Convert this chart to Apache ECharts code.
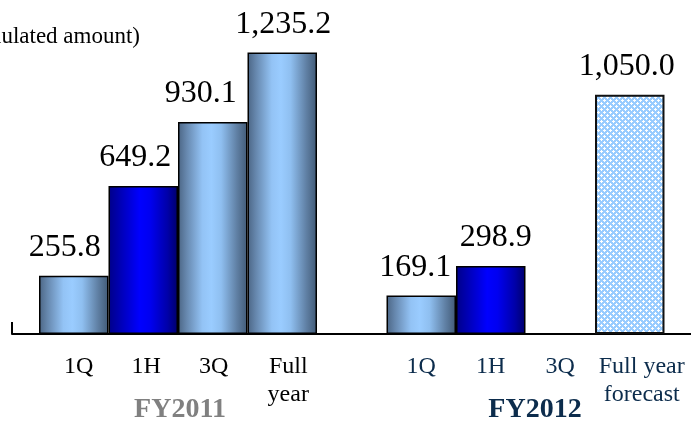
<!DOCTYPE html>
<html>
<head>
<meta charset="utf-8">
<script src="https://cdn.jsdelivr.net/npm/echarts@6/dist/echarts.min.js"></script>
<style>
  html, body { margin: 0; padding: 0; background: #fff; }
  #chart { width: 691px; height: 421px; }
</style>
</head>
<body>
<div id="chart"></div>
<script>
// Accumulated amounts by period, FY2011 results and FY2012 to date plus forecast
const categories = ['1Q', '1H', '3Q', 'Full\nyear', '', '1Q', '1H', '3Q', 'Full year\nforecast'];
const values = [255.8, 649.2, 930.1, 1235.2, null, 169.1, 298.9, null, 1050.0];
const barKinds = ['quarter', 'half', 'quarter', 'quarter', null, 'quarter', 'half', null, 'forecast'];
const fiscalYears = ['FY2011', 'FY2012'];
const titleText = '(Accumulated amount)';
const yMax = 1400;

// small horizontal nudges for the text around the bars
const valueLabelShift = [-9, -8, -12, 1, 0, -6, 5, 0, -3];
const tickLabelShift = [5, 3, 1, 6, 0, 0, 0, 0, 12];
const tickLabelColor = ['#000', '#000', '#000', '#000', '#000', '#0c2c4c', '#0c2c4c', '#0c2c4c', '#0c2c4c'];

const serif = '"Liberation Serif", "Times New Roman", serif';

// light-blue dotted tile for the forecast bar
function makeDotTile() {
  const c = document.createElement('canvas');
  c.width = 6; c.height = 6;
  const g = c.getContext('2d');
  g.fillStyle = '#99ccff';
  g.fillRect(0, 0, 6, 6);
  g.fillStyle = '#ffffff';
  const plus = (x, y) => {
    [[0, 0], [-1, 0], [1, 0], [0, -1], [0, 1]].forEach(([dx, dy]) => {
      g.fillRect((x + dx + 6) % 6, (y + dy + 6) % 6, 1, 1);
    });
  };
  plus(1, 1);
  plus(4, 4);
  return c;
}

const barStyles = {
  quarter: {
    color: {
      type: 'linear', x: 0, y: 0, x2: 1, y2: 0,
      colorStops: [
        { offset: 0, color: '#4b6584' },
        { offset: 0.12, color: '#6687ad' },
        { offset: 0.35, color: '#93c3f5' },
        { offset: 0.48, color: '#9accff' },
        { offset: 0.62, color: '#8fbff0' },
        { offset: 0.85, color: '#5f7fa3' },
        { offset: 1, color: '#415a76' }
      ]
    },
    borderColor: '#000', borderWidth: 1.5
  },
  half: {
    color: {
      type: 'linear', x: 0, y: 0, x2: 1, y2: 0,
      colorStops: [
        { offset: 0, color: '#000088' },
        { offset: 0.15, color: '#0000b0' },
        { offset: 0.45, color: '#0000ff' },
        { offset: 0.6, color: '#0000f0' },
        { offset: 0.85, color: '#0000a8' },
        { offset: 1, color: '#00006a' }
      ]
    },
    borderColor: '#000', borderWidth: 1.5
  },
  forecast: {
    color: { image: makeDotTile(), repeat: 'repeat' },
    borderColor: '#111', borderWidth: 2
  }
};

const fmt = v => v.toLocaleString('en-US', { minimumFractionDigits: 1, maximumFractionDigits: 1 });

// per-label rich styles so each tick label can be nudged sideways
const tickRich = {};
tickLabelShift.forEach((s, i) => {
  tickRich['t' + i] = {
    fontFamily: serif, fontSize: 24, color: tickLabelColor[i], lineHeight: 28,
    padding: [0, 0, 0, 2 * s]
  };
});

const barData = values.map((v, i) => {
  if (v == null) return '-';
  return {
    value: v,
    itemStyle: barStyles[barKinds[i]],
    label: { offset: [valueLabelShift[i], 0] }
  };
});

const chart = echarts.init(document.getElementById('chart'), null, { renderer: 'canvas' });

chart.setOption({
  backgroundColor: '#fff',
  animation: false,
  title: {
    text: titleText,
    right: 551,
    top: 25,
    padding: 0,
    textStyle: { fontFamily: serif, fontSize: 23, fontWeight: 'normal', color: '#000' }
  },
  grid: [
    { left: 12, right: -2, top: 15, bottom: 87 },
    { left: 39, right: 26.5, top: 15, bottom: 87 }
  ],
  xAxis: [
    {
      gridIndex: 0, type: 'value', min: 0, max: 1, interval: 1,
      axisLine: { show: true, lineStyle: { color: '#000', width: 2 } },
      axisTick: { show: true, inside: true, length: 12, customValues: [0], lineStyle: { color: '#000', width: 2 } },
      axisLabel: { show: false },
      splitLine: { show: false }
    },
    {
      gridIndex: 1, type: 'category', data: categories,
      axisLine: { show: false },
      axisTick: { show: false },
      axisLabel: {
        interval: 0,
        margin: 19,
        fontFamily: serif, fontSize: 24, color: '#000', lineHeight: 28,
        formatter: (val, i) => val.split('\n').map(line => '{t' + i + '|' + line + '}').join('\n'),
        rich: tickRich
      }
    }
  ],
  yAxis: [
    { gridIndex: 0, type: 'value', min: 0, max: yMax, show: false },
    { gridIndex: 1, type: 'value', min: 0, max: yMax, show: false }
  ],
  series: [
    {
      type: 'bar',
      xAxisIndex: 1, yAxisIndex: 1,
      data: barData,
      barCategoryGap: '0%',
      label: {
        show: true,
        position: 'top',
        distance: 12,
        fontFamily: serif, fontSize: 32, color: '#000',
        formatter: p => fmt(p.value)
      }
    }
  ],
  graphic: [
    {
      type: 'text', x: 180, y: 410,
      style: { text: fiscalYears[0], font: 'bold 28px ' + serif, fill: '#808080', align: 'center', verticalAlign: 'middle' }
    },
    {
      type: 'text', x: 535, y: 410,
      style: { text: fiscalYears[1], font: 'bold 28px ' + serif, fill: '#0c2c4c', align: 'center', verticalAlign: 'middle' }
    }
  ]
});
</script>
</body>
</html>
